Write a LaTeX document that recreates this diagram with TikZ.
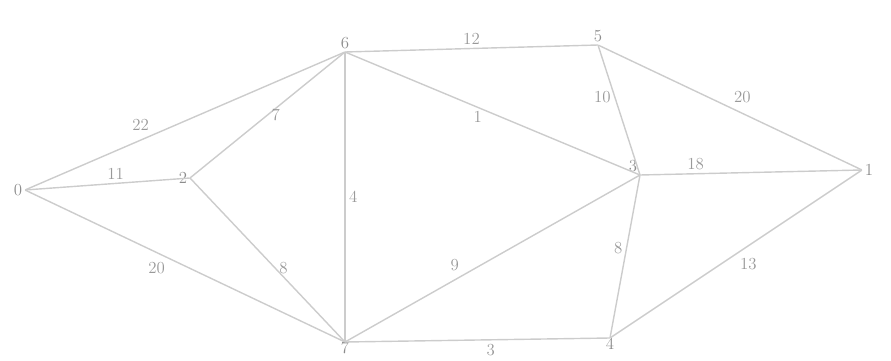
\documentclass[tikz,border=0pt]{standalone}
\usepackage{tikz}
\usetikzlibrary{positioning}

\begin{document}
\begin{tikzpicture}[x=0.03cm, y=-0.03cm,
          pt/.style={inner sep=0pt, minimum size=0pt, label distance=1pt},
          vlab/.style={font=\Large, text=black!45, inner sep=2pt},
          blab/.style={font=\Large, text=black!45, inner sep=0pt},
          edge/.style={line width=1.2pt, black!20},
          wt/.style={font=\Large, text=black!40, inner sep=3pt}
        ]
        \useasboundingbox (0,0) rectangle (891,360);

        % vertices at fixed pixel-like coordinates
        \node[pt, label={[vlab]left:0}]  (n0) at (25,190) {};
        \node[pt, label={[vlab]left:2}]  (n2) at (190,178) {};
        \node[pt, label={[vlab]above:6}] (n6) at (345,52) {};
        \node[pt, label={[vlab]above:5}] (n5) at (598,45) {};
        \node[pt, label={[vlab]above left:3}] (n3) at (640,175) {};
        \node[pt, label={[vlab]right:1}] (n1) at (862,170) {};
        \node[pt, label={[blab]below:7}] (n7) at (345,342) {};
        \node[pt, label={[blab]below:4}] (n4) at (610,338) {};

        % weighted edges
        \draw[edge] (n0) -- (n6) node[wt, pos=0.4, above left] {22};
        \draw[edge] (n0) -- (n2) node[wt, pos=0.55, above] {11};
        \draw[edge] (n0) -- (n7) node[wt, pos=0.45, below left] {20};
        \draw[edge] (n2) -- (n6) node[wt, pos=0.5, right] {7};
        \draw[edge] (n2) -- (n7) node[wt, pos=0.55, right] {8};
        \draw[edge] (n6) -- (n5) node[wt, midway, above] {12};
        \draw[edge] (n6) -- (n7) node[wt, midway, right] {4};
        \draw[edge] (n6) -- (n3) node[wt, pos=0.45, below] {1};
        \draw[edge] (n5) -- (n3) node[wt, pos=0.4, left] {10};
        \draw[edge] (n5) -- (n1) node[wt, midway, above right] {20};
        \draw[edge] (n3) -- (n1) node[wt, pos=0.25, above] {18};
        \draw[edge] (n7) -- (n3) node[wt, pos=0.4, above left] {9};
        \draw[edge] (n3) -- (n4) node[wt, pos=0.45, left] {8};
        \draw[edge] (n7) -- (n4) node[wt, pos=0.55, below] {3};
        \draw[edge] (n4) -- (n1) node[wt, pos=0.5, below right] {13};
      \end{tikzpicture}
\end{document}
